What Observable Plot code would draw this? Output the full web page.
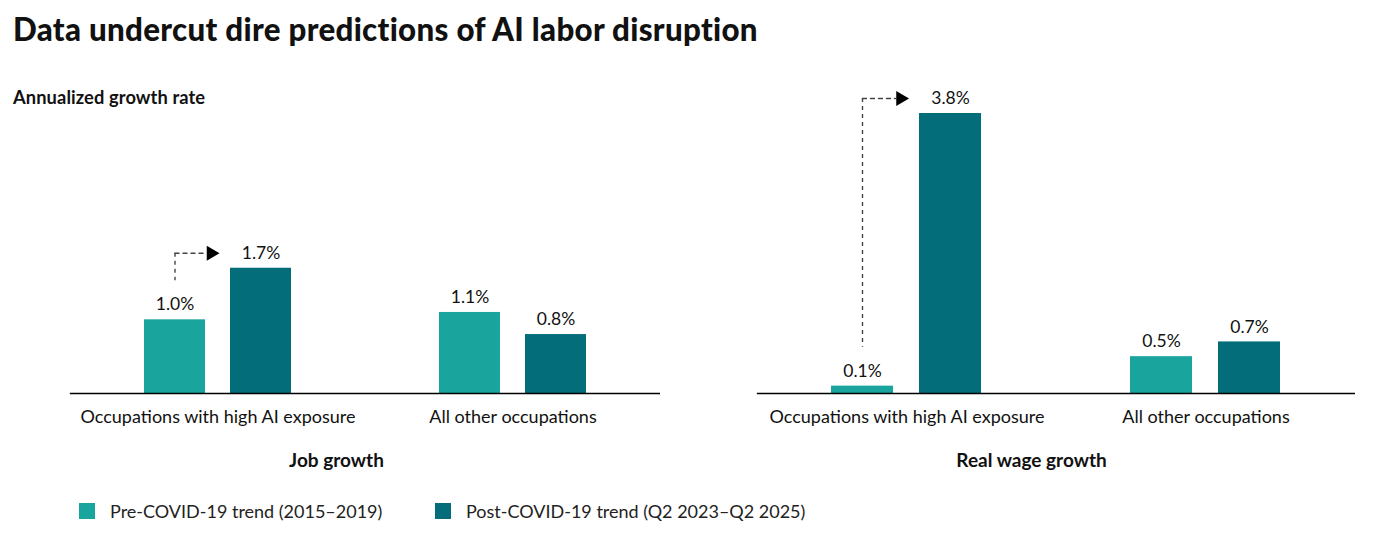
<!DOCTYPE html>
<html>
<head>
<meta charset="utf-8">
<script src="https://cdn.jsdelivr.net/npm/d3@7"></script>
<script src="https://cdn.jsdelivr.net/npm/@observablehq/plot@0.6"></script>
<style>
  body { margin: 0; background: #fff; font-family: Lato, "Noto Sans", sans-serif; color: #111; }
  #page { position: relative; width: 1378px; height: 538px; overflow: hidden; }
  .abs { position: absolute; }
  #title { left: 13px; top: 10px; font-size: 31.3px; font-weight: 900; letter-spacing: 0.3px; }
  #ylabel { left: 13px; top: 86px; font-size: 18.3px; font-weight: 700; letter-spacing: 0.1px; }
  .ptitle { top: 448px; width: 647px; text-align: center; font-size: 19px; font-weight: 700; }
  .leg { top: 500px; font-size: 18px; color: #222; display: flex; align-items: center; }
  .sw { width: 16px; height: 16px; margin-right: 15px; }
</style>
</head>
<body>
<div id="page">
  <div id="title" class="abs">Data undercut dire predictions of AI labor disruption</div>
  <div id="ylabel" class="abs">Annualized growth rate</div>
</div>
<script>
const panels = ["Job growth", "Real wage growth"];
const categories = ["Occupations with high AI exposure", "All other occupations"];
const series = ["Pre-COVID-19 trend (2015–2019)", "Post-COVID-19 trend (Q2 2023–Q2 2025)"];
const colors = ["#19a59d", "#036d79"];
const jobPre = [1.0, 1.1];
const jobPost = [1.7, 0.8];
const wagePre = [0.1, 0.5];
const wagePost = [3.8, 0.7];
const panelValues = [[jobPre, jobPost], [wagePre, wagePost]];
const panelLefts = [13, 708];
const panelOuter = [0.093, 0.08];

const page = document.getElementById("page");
const fmt = v => d3.format(".1f")(v) + "%";

panels.forEach((panel, pi) => {
  const [pre, post] = panelValues[pi];
  const rows = [];
  categories.forEach((c, ci) => {
    rows.push({category: c, series: series[0], value: pre[ci]});
    rows.push({category: c, series: series[1], value: post[ci]});
  });
  const arrowData = [{category: categories[0], pre: pre[0], post: post[0]}];

  const chart = Plot.plot({
    width: 647,
    height: 353,
    marginTop: 33,
    marginBottom: 40,
    marginLeft: 0,
    marginRight: 0,
    style: {fontFamily: "Lato, 'Noto Sans', sans-serif", fontSize: "18px", color: "#111", background: "transparent"},
    fx: {domain: categories, paddingInner: 0, paddingOuter: panelOuter[pi], align: 1, axis: "bottom", label: null, tickSize: 0, tickPadding: 17},
    x: {domain: series, paddingInner: 0.29, paddingOuter: 0.843, axis: null},
    y: {domain: [0, 3.8], axis: null},
    color: {domain: series, range: colors},
    marks: [
      Plot.barY(rows, {fx: "category", x: "series", y: "value", fill: "series"}),
      Plot.text(rows, {fx: "category", x: "series", y: "value", text: d => fmt(d.value), dy: -15, fontSize: 17.5, fill: "#111"}),
      Plot.ruleX(arrowData, {fx: "category", x: () => series[0], y1: "post", y2: "pre", dy: -15, insetBottom: 24, stroke: "#444", strokeWidth: 1.4, strokeDasharray: "4,4"}),
      Plot.arrow(arrowData, {fx: "category", x1: () => series[0], x2: () => series[1], y1: "post", y2: "post", dy: -15, headLength: 0, insetEnd: 55, stroke: "#444", strokeWidth: 1.4, strokeDasharray: "4,4"}),
      Plot.dot(arrowData, {fx: "category", x: () => series[1], y: "post", dy: -15, dx: -50, symbol: "triangle", rotate: 90, r: 5.5, fill: "#000", stroke: "none"}),
      Plot.frame({anchor: "bottom", facet: "super", stroke: "#000", strokeWidth: 1.3})
    ]
  });
  chart.classList.add("abs");
  chart.style.left = panelLefts[pi] + "px";
  chart.style.top = "80px";
  page.appendChild(chart);

  const t = document.createElement("div");
  t.className = "abs ptitle";
  t.style.left = panelLefts[pi] + "px";
  t.textContent = panel;
  page.appendChild(t);
});

const legLefts = [79, 435];
series.forEach((s, i) => {
  const d = document.createElement("div");
  d.className = "abs leg";
  d.style.left = legLefts[i] + "px";
  const sw = document.createElement("span");
  sw.className = "sw";
  sw.style.background = colors[i];
  const tx = document.createElement("span");
  tx.textContent = s;
  d.appendChild(sw);
  d.appendChild(tx);
  page.appendChild(d);
});
</script>
</body>
</html>
